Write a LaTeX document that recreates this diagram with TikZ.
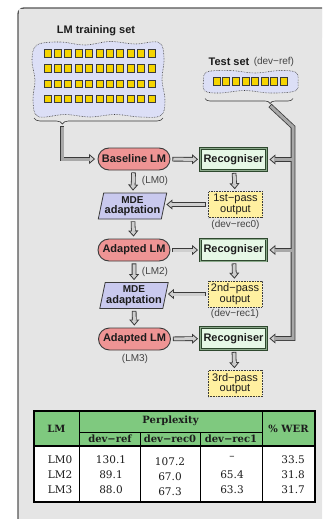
\documentclass[tikz,border=0pt]{standalone}
\usepackage{fontspec}
\setmainfont{Liberation Sans}
\newfontfamily\tabfont{DejaVu Serif}
\usepackage{xcolor}
\usepackage{tikz}
\usetikzlibrary{positioning,arrows.meta,shapes.geometric,decorations.pathreplacing}

\definecolor{panelgray}{HTML}{E5E5E5}
\definecolor{panelline}{HTML}{555555}
\definecolor{lmred}{HTML}{EE9494}
\definecolor{recgreen}{HTML}{E6F8E6}
\definecolor{recline}{HTML}{2E482E}
\definecolor{recmid}{HTML}{8CAA8C}
\definecolor{mdeblue}{HTML}{C9C9EE}
\definecolor{outyellow}{HTML}{FFF0A0}
\definecolor{cloudblue}{HTML}{DCDFF6}
\definecolor{sqyellow}{HTML}{F5D400}
\definecolor{arrdark}{HTML}{3A3A3A}
\definecolor{arrfill}{HTML}{CFCFCF}
\definecolor{pipefill}{HTML}{A8A8A8}
\definecolor{tabgreen}{HTML}{7FC97F}
\definecolor{txtdark}{HTML}{1C1C1C}
\definecolor{txtgray}{HTML}{444444}

% fat hollow arrow: dark outline first, light core on top
\newcommand{\fatarrow}[2]{%
  \draw[fatout] #1 -- #2;
  \draw[fatin] #1 -- #2;}

\begin{document}
\begin{tikzpicture}[x=1pt, y=-1pt,
  every node/.style={text=txtdark, inner sep=1pt},
  lmbox/.style={draw=arrdark, line width=0.9pt, fill=lmred, rounded corners=11pt,
    minimum width=72pt, minimum height=22pt, font=\bfseries\fontsize{11}{12}\selectfont},
  recbox/.style={draw=recline, double=recmid, double distance=0.8pt, line width=0.9pt,
    fill=recgreen, minimum width=66pt, minimum height=22pt, font=\bfseries\fontsize{11}{12}\selectfont},
  mdebox/.style={trapezium, trapezium left angle=76, trapezium right angle=104,
    trapezium stretches=true, draw=arrdark, line width=0.8pt, fill=mdeblue,
    minimum width=66pt, minimum height=26pt, align=center,
    font=\bfseries\fontsize{11}{10.5}\selectfont},
  outbox/.style={draw=arrdark, densely dotted, line width=0.6pt, fill=outyellow,
    minimum width=54pt, minimum height=26pt, align=center, font=\fontsize{11}{10.5}\selectfont},
  titletxt/.style={font=\bfseries\fontsize{11}{12}\selectfont},
  smalltxt/.style={text=txtgray, font=\fontsize{10}{11}\selectfont},
  sqbox/.style={draw=arrdark, line width=0.8pt, fill=sqyellow},
  cloudbox/.style={draw=arrdark, densely dotted, line width=0.6pt, fill=cloudblue},
  bracestyle/.style={draw=arrdark, line width=0.6pt, decorate},
  fatout/.style={line width=4.6pt, draw=arrdark, shorten <=2pt, shorten >=2pt,
    -{Triangle[length=6pt, width=10pt, line width=0.8pt, fill=arrfill]}},
  fatin/.style={line width=3pt, draw=arrfill, shorten <=2.8pt, shorten >=6.8pt},
  pipeout/.style={line width=4.6pt, draw=arrdark, line join=miter, shorten >=2.5pt,
    -{Triangle[length=6pt, width=10pt, line width=0.8pt, fill=arrfill]}},
  pipein/.style={line width=3pt, draw=pipefill, line join=miter, shorten >=7.3pt},
  tabhead/.style={font=\tabfont\bfseries\fontsize{10}{11}\selectfont},
  tabcell/.style={font=\tabfont\fontsize{10.5}{11}\selectfont}]

  \clip (0,0) rectangle (322,519);

  % Panel
  \draw[fill=panelgray, draw=panelline, line width=1.3pt, rounded corners=6pt]
    (18,540) -- (18,8) -- (340,8);
  \fill[panelgray] (18.7,8.7) rectangle (340,540);

  % LM training set
  \node[titletxt] (trlabel) at (96,31) {LM training set};
  \draw[cloudbox] plot[smooth cycle, tension=0.6] coordinates {
    (37,45) (60,42) (85,45) (110,41.5) (135,44) (159,42.5)
    (164,58) (162,80) (165,100) (161,115.5)
    (140,117) (115,114.5) (90,117) (65,114.5) (38,116.5)
    (33,100) (35,80) (32,60)};
  \foreach \r in {0,...,3}
    \foreach \c in {0,...,10}
      \draw[sqbox] ({44+\c*10.4},{49.5+\r*15.2}) rectangle ++(7,7.5);
  \draw[bracestyle, decoration={brace, mirror, amplitude=6pt, aspect=0.22}] (34,118) -- (163,118);

  % Test set
  \node[titletxt] (tslabel) at (229,62) {Test set};
  \node[smalltxt, right=2pt of tslabel] (tsref) {(dev−ref)};
  \draw[cloudbox] plot[smooth cycle, tension=0.6] coordinates {
    (207,72) (230,70.5) (255,73) (280,70.5) (296,72.5)
    (298,82) (295,91) (270,93) (245,90.5) (220,93) (205,91) (203.5,81)};
  \foreach \c in {0,...,7}
    \draw[sqbox] ({213.3+\c*9.57},77.8) rectangle ++(7,7.5);
  \draw[bracestyle, decoration={brace, mirror, amplitude=5pt, aspect=0.74}] (205,98.5) -- (293,98.5);

  % Language models and recognisers
  \node[lmbox] (base) at (134,159) {Baseline LM};
  \node[recbox] (rec1) at (233.5,159.5) {Recogniser};
  \node[outbox] (out1) at (235.5,204.5) {1st−pass\\output};
  \node[smalltxt] (rec0lab) at (235.5,224.5) {(dev−rec0)};
  \node[mdebox] (mde1) at (132.5,206) {{\fontsize{10}{10}\selectfont MDE}\\adaptation};
  \node[smalltxt] (lm0lab) at (155,180.5) {(LM0)};

  \node[lmbox] (adapt2) at (134,250) {Adapted LM};
  \node[recbox] (rec2) at (233.5,250) {Recogniser};
  \node[smalltxt] (lm2lab) at (155,272) {(LM2)};
  \node[outbox] (out2) at (235,294) {2nd−pass\\output};
  \node[smalltxt] (rec1lab) at (235,313.5) {(dev−rec1)};
  \node[mdebox] (mde2) at (134,295.5) {{\fontsize{10}{10}\selectfont MDE}\\adaptation};

  \node[lmbox] (adapt3) at (134.5,339) {Adapted LM};
  \node[recbox] (rec3) at (233.5,338.5) {Recogniser};
  \node[smalltxt] (lm3lab) at (135,359) {(LM3)};
  \node[outbox] (out3) at (235,383.5) {3rd−pass\\output};

  % Arrows
  \fatarrow{(base)}{(rec1)}
  \fatarrow{(base)}{(mde1)}
  \fatarrow{(rec1)}{(out1)}
  \fatarrow{(out1.west)}{(out1.west -| mde1.east)}
  \fatarrow{(mde1)}{(adapt2)}
  \fatarrow{(adapt2)}{(rec2)}
  \fatarrow{(adapt2)}{(mde2)}
  \fatarrow{(rec2)}{(out2)}
  \fatarrow{(out2.west)}{(out2.west -| mde2.east)}
  \fatarrow{(mde2)}{(adapt3)}
  \fatarrow{(adapt3)}{(rec3)}
  \fatarrow{(rec3)}{(out3)}

  % Pipes from the data sets
  \coordinate (trtip) at (62,126);
  \coordinate (tstip) at (270,105.5);
  \coordinate (tsbend) at (293,127);
  \draw[pipeout] (trtip) |- (base.west);
  \draw[pipeout] (tstip) -- (tsbend) |- (rec3.east);
  \draw[pipeout] (tsbend |- rec1.east) -- (rec1.east);
  \draw[pipeout] (tsbend |- rec2.east) -- (rec2.east);
  \draw[pipein, shorten <=0.8pt] (trtip) |- (base.west);
  \draw[pipein, shorten <=0.8pt] (tstip) -- (tsbend) |- (rec3.east);
  \draw[pipein] (tsbend |- rec1.east) -- (rec1.east);
  \draw[pipein] (tsbend |- rec2.east) -- (rec2.east);

  % Results table
  \fill[tabgreen] (34,411) rectangle (315,446);
  \fill[white] (34,446) rectangle (315,502);
  \draw[line width=0.7pt] (79,411) -- (79,502);
  \draw[line width=0.7pt] (262,411) -- (262,502);
  \draw[line width=0.7pt] (79,432) -- (262,432);
  \draw[line width=0.7pt] (140,432) -- (140,502);
  \draw[line width=0.7pt] (200,432) -- (200,502);
  \draw[line width=1.1pt] (34,446) -- (315,446);
  \draw[line width=1.4pt] (34,411) rectangle (315,502);

  \node[tabhead] (hlm) at (56.5,428.5) {LM};
  \node[tabhead] (hppl) at (170.5,421) {Perplexity};
  \node[tabhead] (hwer) at (288.5,428.5) {\% WER};
  \node[tabhead] (href) at (110,439) {dev−ref};
  \node[tabhead] (hrec0) at (170,439) {dev−rec0};
  \node[tabhead] (hrec1) at (231,439) {dev−rec1};

  \node[tabcell] (lm0) at (60,460) {LM0};
  \node[tabcell] (lm2) at (60,475) {LM2};
  \node[tabcell] (lm3) at (60,490) {LM3};
  \node[tabcell] (ref0) at (111,460) {130.1};
  \node[tabcell] (ref2) at (111,475) {89.1};
  \node[tabcell] (ref3) at (111,490) {88.0};
  \node[tabcell] (rz0) at (170,462) {107.2};
  \node[tabcell] (rz2) at (170,477) {67.0};
  \node[tabcell] (rz3) at (170,492) {67.3};
  \node[tabcell] (ro0) at (232,458) {–};
  \node[tabcell] (ro2) at (232,475) {65.4};
  \node[tabcell] (ro3) at (232,490) {63.3};
  \node[tabcell, anchor=east] (w0) at (306,460) {33.5};
  \node[tabcell, anchor=east] (w2) at (306,475) {31.8};
  \node[tabcell, anchor=east] (w3) at (306,490) {31.7};
\end{tikzpicture}
\end{document}
